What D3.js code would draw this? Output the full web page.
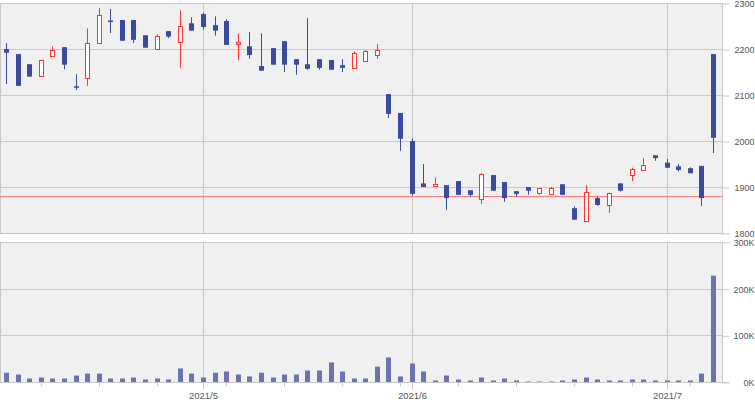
<!DOCTYPE html>
<html>
<head>
<meta charset="utf-8">
<script src="https://cdn.jsdelivr.net/npm/d3@7"></script>
<style>
  body { margin: 0; background: #fff; }
  svg text { font-family: "Liberation Sans", Arial, sans-serif; font-size: 9.5px; fill: #555; }
</style>
</head>
<body>
<script>
// trading days shown (Apr 7 - Jul 7, 2021)
var dates = [
  "2021-04-07","2021-04-08","2021-04-09","2021-04-12","2021-04-13","2021-04-14","2021-04-15","2021-04-16",
  "2021-04-19","2021-04-20","2021-04-21","2021-04-22","2021-04-23","2021-04-26","2021-04-27","2021-04-28","2021-04-30",
  "2021-05-06","2021-05-07","2021-05-10","2021-05-11","2021-05-12","2021-05-13","2021-05-14","2021-05-17","2021-05-18",
  "2021-05-19","2021-05-20","2021-05-21","2021-05-24","2021-05-25","2021-05-26","2021-05-27","2021-05-28","2021-05-31",
  "2021-06-01","2021-06-02","2021-06-03","2021-06-04","2021-06-07","2021-06-08","2021-06-09","2021-06-10","2021-06-11",
  "2021-06-14","2021-06-15","2021-06-16","2021-06-17","2021-06-18","2021-06-21","2021-06-22","2021-06-23","2021-06-24",
  "2021-06-25","2021-06-28","2021-06-29","2021-06-30","2021-07-01","2021-07-02","2021-07-05","2021-07-06","2021-07-07"
];
var open  = [2201,2190,2168,2143,2185,2205,2120,2138,2213,2263,2264,2264,2231,2202,2240,2217,2257,
             2277,2253,2262,2211,2207,2164,2203,2218,2179,2168,2179,2177,2166,2160,2175,2189,2103,2062,
             2001,1909,1902,1905,1914,1894,1875,1927,1912,1892,1901,1888,1886,1907,1855,1828,1877,1863,
             1909,1928,1940,1970,1954,1946,1942,1947,2190];
var high  = [2214,2190,2168,2178,2207,2205,2146,2246,2290,2288,2264,2264,2231,2233,2240,2285,2270,
             2280,2272,2266,2235,2238,2235,2203,2218,2179,2268,2179,2177,2179,2196,2199,2212,2103,2062,
             2007,1951,1922,1905,1914,1894,1931,1927,1912,1892,1901,1898,1901,1907,1859,1905,1881,1889,
             1909,1943,1964,1970,1962,1951,1944,1947,2190];
var low   = [2125,2121,2141,2143,2185,2157,2112,2121,2213,2236,2219,2214,2204,2202,2225,2160,2241,
             2243,2230,2210,2177,2180,2154,2167,2151,2145,2156,2156,2156,2151,2160,2175,2180,2051,1980,
             1882,1901,1902,1851,1884,1880,1864,1893,1869,1880,1884,1884,1886,1884,1830,1828,1860,1845,
             1891,1914,1940,1958,1943,1935,1931,1860,1975];
var close = [2193,2121,2141,2178,2198,2167,2120,2215,2274,2263,2219,2221,2204,2230,2228,2252,2241,
             2249,2241,2210,2216,2188,2154,2167,2167,2167,2158,2160,2156,2160,2192,2196,2199,2060,2006,
             1886,1901,1907,1877,1884,1884,1929,1893,1877,1886,1893,1898,1898,1884,1830,1891,1862,1889,
             1893,1940,1950,1964,1943,1938,1931,1877,2008];
var volume = [21000,17000,8600,10700,8600,8600,15000,19000,19000,8600,8600,10700,6400,8600,6400,30000,19000,
              10700,21000,23600,17000,13000,21000,10700,17000,17000,25700,25700,43000,23600,8600,8600,34000,53600,13000,
              40700,23600,4300,15000,6400,4300,10700,4300,8600,4300,2100,2100,2100,4300,6400,10700,6400,4300,
              4300,6400,6400,4300,4300,4300,4300,19000,229000];
var priceTicks = [1800,1900,2000,2100,2200,2300];
var volTicks = [0,100000,200000,300000];
var refLine = [1880];

var W = 755, H = 400;
var plotL = 0.5, plotR = 722.5;

var svg = d3.select("body").append("svg")
  .attr("width", W).attr("height", H);

var x = d3.scalePoint().domain(d3.range(dates.length)).range([6.5, 713.5]);
var yP = d3.scaleLinear().domain([1800, 2300]).range([233.5, 3.5]);
var yV = d3.scaleLinear().domain([0, 300000]).range([382.5, 242.5]);

var parse = d3.timeParse("%Y-%m-%d");
var days = dates.map(parse);
var monthStarts = d3.range(1, days.length).filter(function(i) { return days[i].getMonth() != days[i-1].getMonth(); });
var mondays = d3.range(days.length).filter(function(i) { return days[i].getDay() == 1 && monthStarts.indexOf(i) < 0; });

function cx(i) { return Math.floor(x(i)) + 0.5; }

var gridColor = "#c8c8c8";

// panels
[[yP, priceTicks], [yV, volTicks]].forEach(function(p) {
  var y = p[0], r = y.range();
  var g = svg.append("g");
  g.append("rect")
    .attr("x", plotL).attr("y", r[1])
    .attr("width", plotR - plotL).attr("height", r[0] - r[1])
    .attr("fill", "#f0f0f0").attr("stroke", gridColor);
  g.selectAll(".hg").data(p[1]).enter().append("line")
    .attr("x1", plotL).attr("x2", plotR)
    .attr("y1", function(d) { return Math.round(y(d) - 0.5) + 0.5; })
    .attr("y2", function(d) { return Math.round(y(d) - 0.5) + 0.5; })
    .attr("stroke", gridColor);
  g.selectAll(".vg").data(monthStarts).enter().append("line")
    .attr("x1", cx).attr("x2", cx)
    .attr("y1", r[1]).attr("y2", r[0])
    .attr("stroke", gridColor);
  // right axis
  var axis = d3.axisRight(y).tickValues(p[1]).tickSize(7).tickPadding(3)
    .tickFormat(y === yV ? function(d) { return (d / 1000) + "K"; } : d3.format("d"));
  var ga = g.append("g").attr("transform", "translate(" + plotR + ",0)").call(axis);
  ga.select(".domain").remove();
  ga.selectAll(".tick line").attr("stroke", gridColor);
  ga.selectAll(".tick text").attr("x", 32).attr("dy", "0.34em")
    .attr("text-anchor", "end").style("font-size", "9px").attr("fill", "#555");
});

// reference line
svg.selectAll(".ref").data(refLine).enter().append("line")
  .attr("class", "ref")
  .attr("x1", plotL).attr("x2", plotR)
  .attr("y1", function(d) { return Math.round(yP(d)) - 0.5; })
  .attr("y2", function(d) { return Math.round(yP(d)) - 0.5; })
  .style("stroke", "#f47f7f")
  .style("stroke-width", 1);

// candles
var blue = "#3b4ba0", red = "#ff3333";
var idx = d3.range(dates.length);
var c = svg.selectAll(".candle").data(idx).enter().append("g").attr("class", "candle");
c.append("line")
  .attr("x1", cx).attr("x2", cx)
  .attr("y1", function(i) { return yP(high[i]); })
  .attr("y2", function(i) { return yP(low[i]); })
  .attr("stroke", function(i) { return close[i] > open[i] ? red : blue; });
c.append("rect")
  .attr("x", function(i) { return close[i] > open[i] ? cx(i) - 2 : cx(i) - 2.5; })
  .attr("width", function(i) { return close[i] > open[i] ? 4 : 5; })
  .attr("y", function(i) { return close[i] > open[i] ? Math.round(yP(close[i])) + 0.5 : yP(open[i]); })
  .attr("height", function(i) {
    var h = Math.abs(yP(open[i]) - yP(close[i]));
    return close[i] > open[i] ? Math.max(Math.round(h), 1) : Math.max(h, 1.5);
  })
  .attr("fill", function(i) { return close[i] > open[i] ? "#fff" : blue; })
  .attr("stroke", function(i) { return close[i] > open[i] ? red : "none"; });

// volume bars
svg.selectAll(".vol").data(idx).enter().append("rect")
  .attr("x", function(i) { return cx(i) - 2.5; })
  .attr("width", 5)
  .attr("y", function(i) { return yV(volume[i]); })
  .attr("height", function(i) { return yV(0) - yV(volume[i]); })
  .attr("fill", "#6b73b0");

// bottom axis
var bottom = yV.range()[0];
svg.append("line").attr("x1", plotL).attr("x2", 729).attr("y1", bottom).attr("y2", bottom).attr("stroke", gridColor);
svg.selectAll(".wk").data(mondays).enter().append("line")
  .attr("x1", cx).attr("x2", cx).attr("y1", bottom).attr("y2", bottom + 4)
  .attr("stroke", gridColor);
svg.selectAll(".mt").data(monthStarts).enter().append("line")
  .attr("x1", cx).attr("x2", cx).attr("y1", bottom).attr("y2", bottom + 7)
  .attr("stroke", gridColor);
svg.selectAll(".ml").data(monthStarts).enter().append("text")
  .attr("x", cx).attr("y", 398.5)
  .attr("text-anchor", "middle")
  .text(function(i) { return d3.timeFormat("%Y/")(days[i]) + (days[i].getMonth() + 1); });
</script>
</body>
</html>
